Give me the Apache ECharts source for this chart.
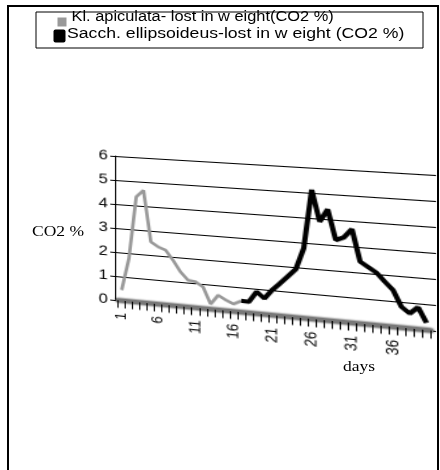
<!DOCTYPE html>
<html><head><meta charset="utf-8">
<script src="https://cdn.jsdelivr.net/npm/echarts@6/dist/echarts.min.js"></script>
<style>
html,body{margin:0;padding:0;background:#fff;width:440px;height:470px;overflow:hidden}
#base,#plot{position:absolute;left:0;top:0;width:440px;height:470px}
#plot{transform-origin:0 0;z-index:2}
</style></head><body>
<div id="base"></div><div id="plot"></div>
<script>
// ---- data ----
const days = ['1','2','3','4','5','6','7','8','9','10','11','12','13','14','15','16','17','18','19','20',
              '21','22','23','24','25','26','27','28','29','30','31','32','33','34','35','36','37','38','39','40'];
const grayName = 'Kl. apiculata- lost in w eight(CO2 %)';
const blackName = 'Sacch. ellipsoideus-lost in w eight (CO2 %)';
const grayStartDay = 1;
const grayValues = [0.44,1.78,4.36,4.65,2.54,2.36,2.25,1.86,1.41,1.10,1.06,0.88,0.21,0.60,0.43,0.30,0.45];
const blackStartDay = 17;
const blackValues = [0.46,0.45,0.88,0.64,1.01,1.30,1.61,1.92,2.78,5.12,3.88,4.39,3.20,3.33,3.68,2.43,2.24,2.05,1.73,1.43,0.81,0.58,0.85,0.28];
const yAxisName = 'CO2 %';
const xAxisName = 'days';

const grayData = grayValues.map((v,i)=>[days[grayStartDay-1+i], v]);
const blackData = blackValues.map((v,i)=>[days[blackStartDay-1+i], v]);

// ---- perspective (homography) for the plot plane ----
function homography(src, dst){
  const A=[], b=[];
  for (let i=0;i<4;i++){
    const x=src[i][0], y=src[i][1], u=dst[i][0], v=dst[i][1];
    A.push([x,y,1,0,0,0,-x*u,-y*u]); b.push(u);
    A.push([0,0,0,x,y,1,-x*v,-y*v]); b.push(v);
  }
  const n=8;
  for (let c=0;c<n;c++){
    let p=c;
    for (let r=c+1;r<n;r++) if (Math.abs(A[r][c])>Math.abs(A[p][c])) p=r;
    let t=A[c]; A[c]=A[p]; A[p]=t; t=b[c]; b[c]=b[p]; b[p]=t;
    for (let r=0;r<n;r++){
      if (r===c) continue;
      const f=A[r][c]/A[c][c];
      for (let k=c;k<n;k++) A[r][k]-=f*A[c][k];
      b[r]-=f*b[c];
    }
  }
  return b.map((v,i)=>v/A[i][i]);
}
const GL=115, GT=156, GW=247, GH=144;
const h = homography(
  [[GL,GT],[GL+GW,GT],[GL,GT+GH],[GL+GW,GT+GH]],
  [[115,156],[436,175],[115,300],[436,331]]
);
document.getElementById('plot').style.transform =
  'matrix3d('+h[0]+','+h[3]+',0,'+h[6]+','+h[1]+','+h[4]+',0,'+h[7]+',0,0,1,0,'+h[2]+','+h[5]+',0,1)';

const SANS = '"Liberation Sans", Arial, sans-serif';
const SERIF = '"Liberation Serif", "Times New Roman", serif';

// ---- base (flat) layer: frame, legend, axis titles ----
const base = echarts.init(document.getElementById('base'), null, {renderer:'canvas'});
base.setOption({
  animation:false,
  backgroundColor:'#fff',
  graphic:[
    {type:'polyline', shape:{points:[[8,475],[8,6],[438,6],[438,475]]}, style:{stroke:'#000', lineWidth:2, fill:null}},
    {type:'rect', shape:{x:36, y:12, width:387, height:36}, style:{stroke:'#000', lineWidth:1, fill:'#fff'}},
    {type:'rect', shape:{x:57.5, y:17.5, width:9, height:9}, style:{fill:'#999', stroke:null}},
    {type:'rect', shape:{x:53.5, y:29.5, width:12, height:13, r:2}, style:{fill:'#000', stroke:null}},
    {type:'text', x:71.5, y:17, scaleX:1.17,
      style:{text:grayName, font:'14px '+SANS, fill:'#000', textAlign:'left', align:'left', textVerticalAlign:'middle', verticalAlign:'middle'}},
    {type:'text', x:67, y:34, scaleX:1.26,
      style:{text:blackName, font:'14px '+SANS, fill:'#000', textAlign:'left', align:'left', textVerticalAlign:'middle', verticalAlign:'middle'}},
    {type:'text', x:84, y:232.5, scaleX:1.25,
      style:{text:yAxisName, font:'14px '+SERIF, fill:'#000', textAlign:'right', align:'right', textVerticalAlign:'middle', verticalAlign:'middle'}},
    {type:'text', x:359, y:367, scaleX:1.25,
      style:{text:xAxisName, font:'14px '+SERIF, fill:'#000', textAlign:'center', align:'center', textVerticalAlign:'middle', verticalAlign:'middle'}}
  ]
});

// ---- plot layer (drawn flat, then put in perspective by CSS) ----
const plot = echarts.init(document.getElementById('plot'), null, {renderer:'canvas', devicePixelRatio:2});
plot.setOption({
  animation:false,
  backgroundColor:'transparent',
  grid:[
    {left:GL, top:GT, width:GW, height:GH},
    {left:GL+0.0104*GW, top:GT, width:0.9745*GW, height:GH}
  ],
  xAxis:[
    {gridIndex:0, type:'value', min:0, max:1, show:false},
    {gridIndex:1, type:'category', position:'bottom', data:days, boundaryGap:true, offset:2,
      axisLine:{show:true, lineStyle:{color:'#787878', width:3.8, shadowColor:'rgba(0,0,0,1)', shadowBlur:2}},
      axisTick:{show:true, interval:0, length:7.5, lineStyle:{color:'#000', width:1}},
      axisLabel:{show:true, interval:4, rotate:90, margin:10, padding:[0,0,7,0], fontSize:13, color:'#000', fontFamily:SANS},
      splitLine:{show:false}}
  ],
  yAxis:[
    {gridIndex:0, type:'value', min:0, max:6, interval:1,
      axisLine:{show:true, lineStyle:{color:'#000', width:1}},
      axisTick:{show:true, length:4, lineStyle:{color:'#000', width:1}},
      axisLabel:{margin:6, fontSize:14, color:'#000', fontFamily:SANS},
      splitLine:{show:true, lineStyle:{color:'#000', width:1}}},
    {gridIndex:1, type:'value', min:0, max:6, interval:1, show:false, splitLine:{show:false}}
  ],
  series:[
    {name:grayName, type:'line', xAxisIndex:1, yAxisIndex:1, data:grayData, symbol:'none', z:3,
      lineStyle:{color:'#999', width:2.8}, itemStyle:{color:'#999'}},
    {name:blackName, type:'line', xAxisIndex:1, yAxisIndex:1, data:blackData, symbol:'none', z:4,
      lineStyle:{color:'#000', width:4}, itemStyle:{color:'#000'}}
  ]
});
</script>
</body></html>
